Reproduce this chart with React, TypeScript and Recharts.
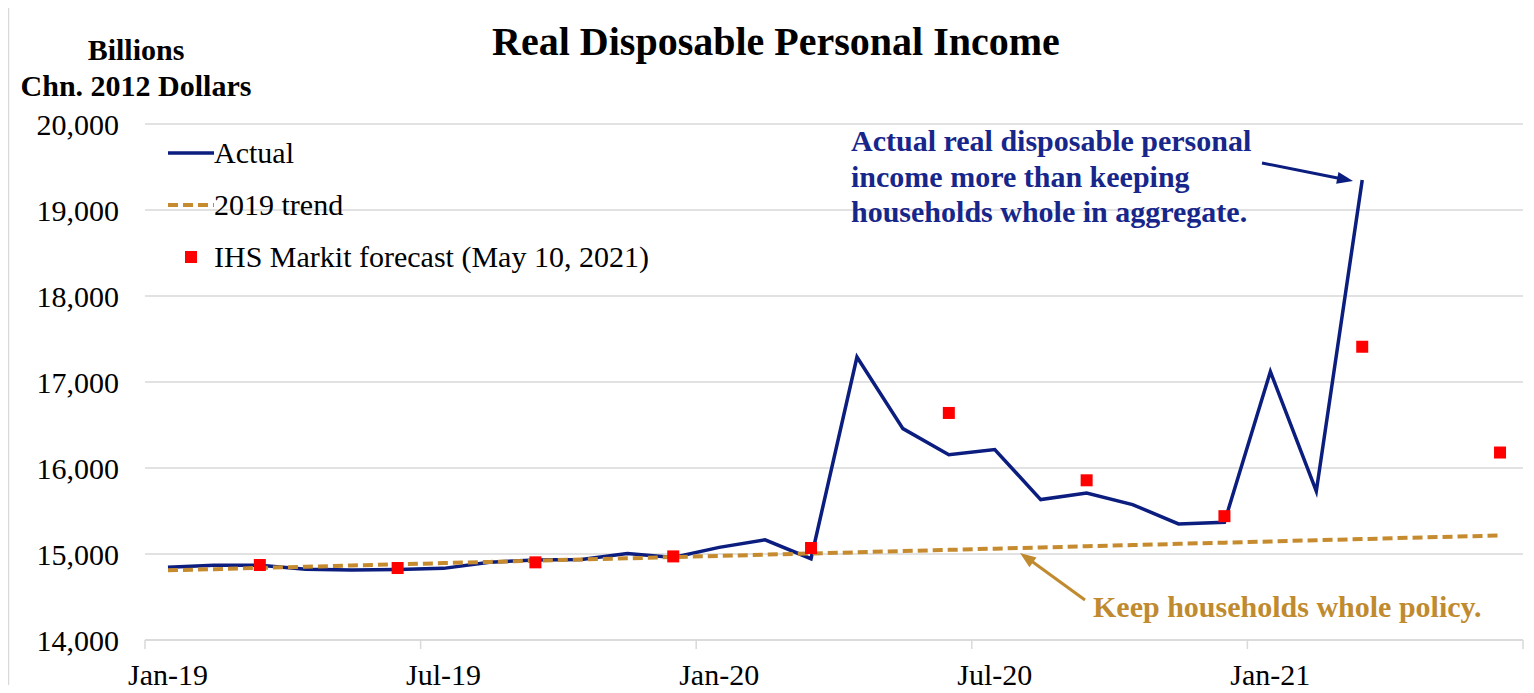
import { LineChart, Line, XAxis, YAxis, CartesianGrid, Legend } from 'recharts';

const FONT = '"Liberation Serif", "Times New Roman", serif';
const NAVY = '#0b1d7e';
const NAVY_TEXT = '#17268a';
const GOLD = '#c68b2e';
const GOLD_TEXT = '#c08a2f';
const RED = '#ff0000';
const GRID = '#d9d9d9';

const MONTHS = [
  'Jan-19', 'Feb-19', 'Mar-19', 'Apr-19', 'May-19', 'Jun-19',
  'Jul-19', 'Aug-19', 'Sep-19', 'Oct-19', 'Nov-19', 'Dec-19',
  'Jan-20', 'Feb-20', 'Mar-20', 'Apr-20', 'May-20', 'Jun-20',
  'Jul-20', 'Aug-20', 'Sep-20', 'Oct-20', 'Nov-20', 'Dec-20',
  'Jan-21', 'Feb-21', 'Mar-21', 'Apr-21', 'May-21', 'Jun-21',
];

// billions of chained 2012 dollars
const ACTUAL = [
  14845, 14870, 14868, 14822, 14815, 14820,
  14833, 14905, 14930, 14937, 15005, 14960,
  15077, 15165, 14945, 17290, 16458, 16155,
  16215, 15633, 15710, 15575, 15350, 15370,
  17120, 15730, 19350, null, null, null,
];

const TREND = [
  14810, 14824, 14838, 14852, 14866, 14880,
  14894, 14908, 14922, 14936, 14950, 14964,
  14978, 14992, 15006, 15020, 15034, 15048,
  15062, 15076, 15090, 15104, 15118, 15132,
  15146, 15160, 15174, 15188, 15202, 15216,
];

// IHS Markit forecast, quarterly (May 10, 2021)
const FORECAST = [
  null, null, 14872, null, null, 14837,
  null, null, 14903, null, null, 14972,
  null, null, 15070, null, null, 16640,
  null, null, 15857, null, null, 15440,
  null, null, 17410, null, null, 16180,
];

const Y_TICKS = [14000, 15000, 16000, 17000, 18000, 19000, 20000];

const data = MONTHS.map((month, i) => ({
  month,
  actual: ACTUAL[i],
  trend: TREND[i],
  forecast: FORECAST[i],
}));

const W = 1534;
const H = 693;
const PLOT_LEFT = 145;
const PLOT_RIGHT = 1523;
const PLOT_TOP = 124;
const PLOT_BOTTOM = 640;
const BAND = (PLOT_RIGHT - PLOT_LEFT) / MONTHS.length;

const XTick = (props: any) => {
  const { x, y, payload, index } = props;
  const half = BAND / 2;
  const major = index % 6 === 0;
  return (
    <g>
      {major && (
        <line x1={x - half} x2={x - half} y1={y} y2={y + 9} stroke={GRID} strokeWidth={1.5} />
      )}
      {index === MONTHS.length - 1 && (
        <line x1={x + half} x2={x + half} y1={y} y2={y + 9} stroke={GRID} strokeWidth={1.5} />
      )}
      {major && (
        <text x={x} y={y + 45} textAnchor="middle" fontFamily={FONT} fontSize={30} fill="#000">
          {payload.value}
        </text>
      )}
    </g>
  );
};

const Square = (props: any) => {
  const { cx, cy, index, payload } = props;
  if (cx == null || cy == null || payload?.forecast == null) return <g key={`sq-${index}`} />;
  return <rect key={`sq-${index}`} x={cx - 6} y={cy - 6} width={12} height={12} fill={RED} />;
};

const renderLegend = () => {
  const row = { display: 'flex', alignItems: 'center', height: 52 } as const;
  return (
    <div style={{ fontFamily: FONT, fontSize: 30, color: '#000', whiteSpace: 'nowrap' }}>
      <div style={row}>
        <svg width={46} height={10}>
          <line x1={0} x2={46} y1={5} y2={5} stroke={NAVY} strokeWidth={3.5} />
        </svg>
        <span>Actual</span>
      </div>
      <div style={row}>
        <svg width={46} height={10}>
          <line x1={0} x2={46} y1={5} y2={5} stroke={GOLD} strokeWidth={4} strokeDasharray="10 5" />
        </svg>
        <span>2019 trend</span>
      </div>
      <div style={row}>
        <svg width={46} height={14}>
          <rect x={17} y={1} width={12} height={12} fill={RED} />
        </svg>
        <span>IHS Markit forecast (May 10, 2021)</span>
      </div>
    </div>
  );
};

const arrowHead = (x1: number, y1: number, x2: number, y2: number, len: number, w: number) => {
  const a = Math.atan2(y2 - y1, x2 - x1);
  const bx = x2 - len * Math.cos(a);
  const by = y2 - len * Math.sin(a);
  const px = Math.sin(a) * w;
  const py = -Math.cos(a) * w;
  return `${x2},${y2} ${bx + px},${by + py} ${bx - px},${by - py}`;
};

const App = () => {
  return (
    <div style={{ position: 'relative', width: W, height: H, margin: -8, background: '#fff' }}>
      <LineChart
        width={W}
        height={H}
        data={data}
        margin={{ top: PLOT_TOP, right: W - PLOT_RIGHT, bottom: 0, left: 45 }}
      >
        <rect x={8.5} y={3.5} width={W + 20} height={H + 20} fill="none" stroke={GRID} strokeWidth={1.5} />
        <text x={776} y={55} textAnchor="middle" fontFamily={FONT} fontWeight="bold" fontSize={40} fill="#000">
          Real Disposable Personal Income
        </text>
        <text x={136} y={60} textAnchor="middle" fontFamily={FONT} fontWeight="bold" fontSize={30} fill="#000">
          Billions
        </text>
        <text x={136} y={96} textAnchor="middle" fontFamily={FONT} fontWeight="bold" fontSize={30} fill="#000">
          Chn. 2012 Dollars
        </text>

        <CartesianGrid vertical={false} stroke={GRID} strokeWidth={1.5} />
        <XAxis
          dataKey="month"
          scale="band"
          interval={0}
          height={H - PLOT_BOTTOM}
          tickSize={0}
          tickMargin={0}
          tickLine={false}
          axisLine={{ stroke: GRID, strokeWidth: 1.5 }}
          tick={<XTick />}
        />
        <YAxis
          width={100}
          domain={[14000, 20000]}
          ticks={Y_TICKS}
          interval={0}
          tickLine={false}
          axisLine={false}
          tickSize={0}
          tickMargin={26}
          tickFormatter={(v: number) => v.toLocaleString('en-US')}
          tick={{ fill: '#000', fontSize: 30, fontFamily: FONT }}
        />
        <Legend
          layout="horizontal"
          verticalAlign="middle"
          align="center"
          content={renderLegend}
          wrapperStyle={{ left: 168, top: 127, width: 560, height: 160 }}
        />

        <Line
          dataKey="actual"
          stroke={NAVY}
          strokeWidth={3.5}
          dot={false}
          activeDot={false}
          isAnimationActive={false}
        />
        <Line
          dataKey="trend"
          stroke={GOLD}
          strokeWidth={4}
          strokeDasharray="10 5"
          dot={false}
          activeDot={false}
          isAnimationActive={false}
        />
        <Line
          dataKey="forecast"
          stroke="none"
          dot={Square}
          activeDot={false}
          isAnimationActive={false}
        />

        <g fontFamily={FONT} fontWeight="bold" fontSize={30} fill={NAVY_TEXT}>
          <text x={851} y={151}>Actual real disposable personal</text>
          <text x={851} y={187}>income more than keeping</text>
          <text x={851} y={222}>households whole in aggregate.</text>
        </g>
        <line x1={1262} y1={163} x2={1340} y2={178.5} stroke={NAVY} strokeWidth={3} />
        <polygon points={arrowHead(1262, 163, 1353, 181, 16, 6)} fill={NAVY} />

        <text x={1093} y={617} fontFamily={FONT} fontWeight="bold" fontSize={30} fill={GOLD_TEXT}>
          Keep households whole policy.
        </text>
        <line x1={1085} y1={600} x2={1030} y2={560} stroke={GOLD_TEXT} strokeWidth={3} />
        <polygon points={arrowHead(1085, 600, 1020, 553, 16, 6)} fill={GOLD_TEXT} />
      </LineChart>
    </div>
  );
};

export default App;
